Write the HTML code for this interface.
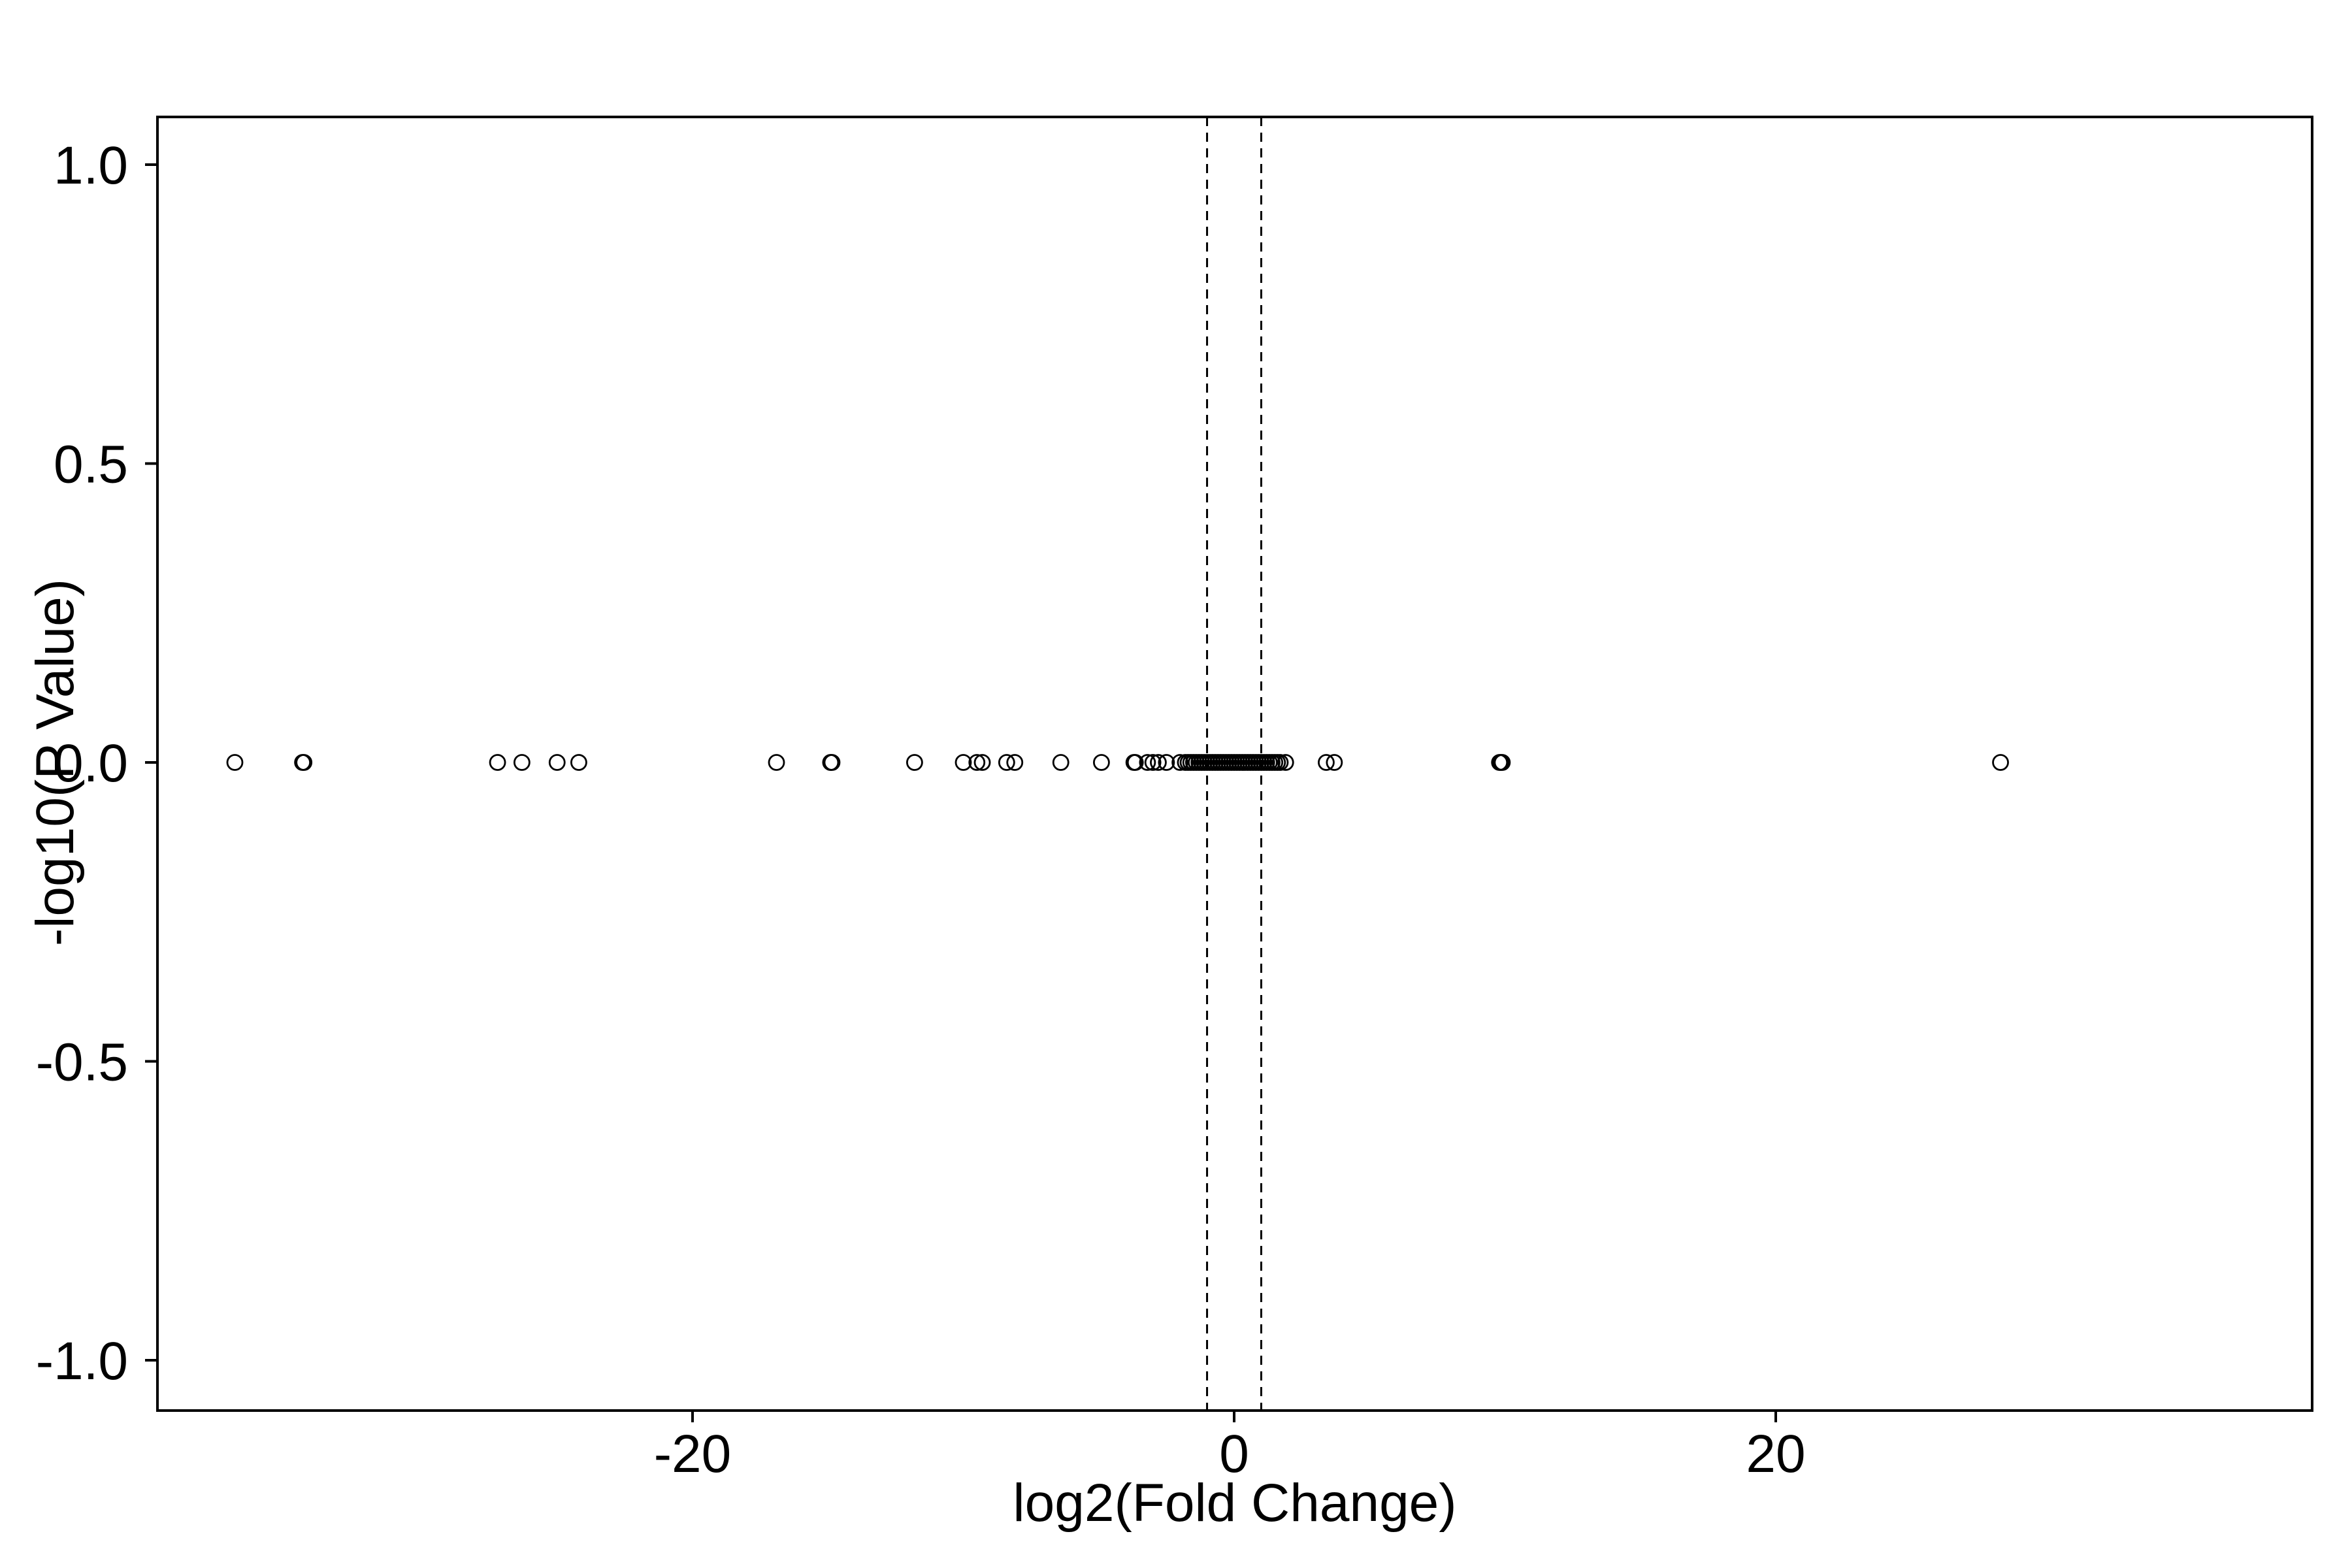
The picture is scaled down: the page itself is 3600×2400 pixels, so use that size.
<!DOCTYPE html>
<html><head><meta charset="utf-8"><style>
html,body{margin:0;padding:0;background:#fff}
svg{display:block}
text{font-family:"Liberation Sans",Arial,sans-serif;fill:#000}
</style></head><body>
<svg id="chart" width="3600" height="2400" viewBox="0 0 3600 2400" xmlns="http://www.w3.org/2000/svg">
<rect x="0" y="0" width="3600" height="2400" fill="#fff"/>
<g id="marks"></g>
<g id="axes"></g>
<rect x="241" y="179" width="3298" height="1980" fill="none" stroke="#000" stroke-width="4"/>
<text x="1890" y="2328" font-size="82" text-anchor="middle">log2(Fold Change)</text>
<text transform="translate(112,1167) rotate(-90)" font-size="82" text-anchor="middle">-log10(P Value)</text>
</svg>
<script>
const xTicks = [-20, 0, 20];
const xTickLabels = ["-20", "0", "20"];
const yTicks = [1.0, 0.5, 0.0, -0.5, -1.0];
const yTickLabels = ["1.0", "0.5", "0.0", "-0.5", "-1.0"];
const thresholds = [-1, 1];
const log2fc = [-36.9, -34.4, -34.35, -27.2, -26.3, -25.0, -24.2, -16.9, -14.9, -14.85, -11.8, -10.0, -9.5, -9.3, -8.4, -8.1,
  -6.4, -4.9, -3.7, -3.65, -3.2, -3.0, -2.8, -2.5, -2.0, -1.8, -1.7,
  -1.6, -1.5, -1.4, -1.3, -1.2, -1.1, -1.0, -0.9, -0.8, -0.7, -0.6, -0.5, -0.4, -0.3, -0.2, -0.1, 0.0,
  0.1, 0.2, 0.3, 0.4, 0.5, 0.6, 0.7, 0.8, 0.9, 1.0, 1.1, 1.2, 1.3, 1.4, 1.5, 1.6, 1.7, 1.9,
  3.4, 3.7, 9.8, 9.85, 9.9, 28.3];
const negLog10P = log2fc.map(() => 0);

const X0 = 1889, XS = 41.45, Y0 = 1167, YS = 915;
function xs(v){ return X0 + v * XS; }
function ys(v){ return Y0 - v * YS; }
const NS = "http://www.w3.org/2000/svg";
const marks = document.getElementById('marks');
const axes = document.getElementById('axes');

thresholds.forEach(t => {
  const l = document.createElementNS(NS, 'line');
  
  
  l.setAttribute('x1', xs(t)); l.setAttribute('x2', xs(t));
  l.setAttribute('y1', 179); l.setAttribute('y2', 2159);
  l.setAttribute('stroke', '#000'); l.setAttribute('stroke-width', 3);
  l.setAttribute('stroke-dasharray', '14,10');
  marks.appendChild(l);
});

log2fc.forEach((v, i) => {
  const c = document.createElementNS(NS, 'circle');
  
  
  c.setAttribute('cx', xs(v)); c.setAttribute('cy', ys(negLog10P[i]));
  c.setAttribute('r', 11.5);
  c.setAttribute('fill', 'none'); c.setAttribute('stroke', '#000'); c.setAttribute('stroke-width', 2.8);
  marks.appendChild(c);
});

xTicks.forEach((t, i) => {
  const l = document.createElementNS(NS, 'line');
  
  
  l.setAttribute('x1', xs(t)); l.setAttribute('x2', xs(t));
  l.setAttribute('y1', 2159); l.setAttribute('y2', 2177);
  l.setAttribute('stroke', '#000'); l.setAttribute('stroke-width', 4);
  axes.appendChild(l);
  const tx = document.createElementNS(NS, 'text');
  
  
  tx.setAttribute('x', xs(t)); tx.setAttribute('y', 2253);
  tx.setAttribute('font-size', 82); tx.setAttribute('text-anchor', 'middle');
  tx.textContent = xTickLabels[i];
  axes.appendChild(tx);
});

yTicks.forEach((t, i) => {
  const l = document.createElementNS(NS, 'line');
  
  
  l.setAttribute('x1', 222); l.setAttribute('x2', 241);
  l.setAttribute('y1', ys(t)); l.setAttribute('y2', ys(t));
  l.setAttribute('stroke', '#000'); l.setAttribute('stroke-width', 4);
  axes.appendChild(l);
  const tx = document.createElementNS(NS, 'text');
  
  
  tx.setAttribute('x', 196); tx.setAttribute('y', ys(t) + 29);
  tx.setAttribute('font-size', 82); tx.setAttribute('text-anchor', 'end');
  tx.textContent = yTickLabels[i];
  axes.appendChild(tx);
});
</script>
</body></html>
